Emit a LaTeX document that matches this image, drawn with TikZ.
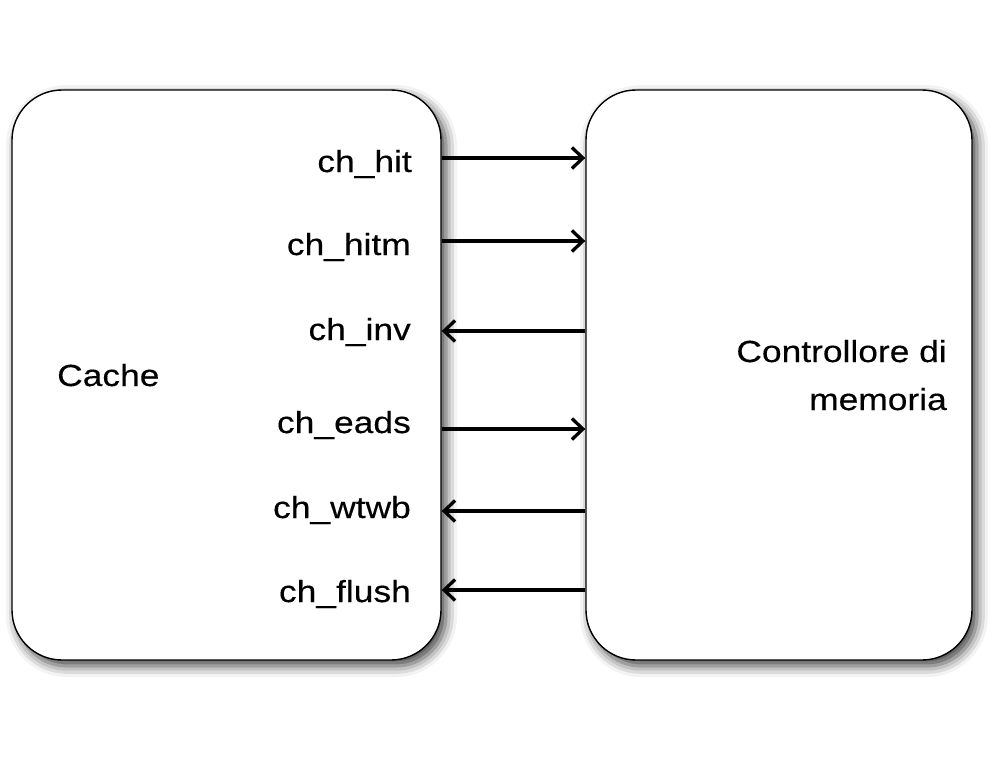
\documentclass[tikz,border=0pt]{standalone}
\usepackage{fontspec}
\setmainfont{Liberation Sans}[FakeStretch=1.16,FakeBold=0.3]
\usetikzlibrary{arrows.meta,shadows.blur}
\tikzset{
  block/.style={draw=black, line width=1.4pt, fill=white, rounded corners=50pt,
    blur shadow={shadow xshift=5pt, shadow yshift=-6pt, shadow blur radius=11pt, shadow opacity=75},
    inner sep=0pt},
  sig/.style={line width=3.3pt, -{Straight Barb[length=11pt,width=21pt,line width=3.3pt]}},
  lbl/.style={font=\fontsize{30.5}{36}\selectfont, anchor=base east, inner sep=0pt},
}
\begin{document}
\begin{tikzpicture}[x=1pt,y=-1pt]
\useasboundingbox (0,0) rectangle (999,764);
\node[block, minimum width=429pt, minimum height=570pt] (cache) at (226.5,375) {};
\node[block, minimum width=386pt, minimum height=570pt] (mem) at (779,375) {};
\node[lbl, anchor=base west] (cachetxt) at (57,386) {Cache};
\node[lbl] (mem1) at (947,362) {Controllore di};
\node[lbl] (mem2) at (947,410) {memoria};
\node[lbl] (l1) at (412,172) {ch\_hit};
\node[lbl] (l2) at (411,255) {ch\_hitm};
\node[lbl] (l3) at (411,340) {ch\_inv};
\node[lbl] (l4) at (411,433) {ch\_eads};
\node[lbl] (l5) at (411,518) {ch\_wtwb};
\node[lbl] (l6) at (411,602) {ch\_flush};
\draw[sig] (cache.east |- 0,158) -- (mem.west |- 0,158);
\draw[sig] (cache.east |- 0,241) -- (mem.west |- 0,241);
\draw[sig] (mem.west |- 0,331) -- (cache.east |- 0,331);
\draw[sig] (cache.east |- 0,429) -- (mem.west |- 0,429);
\draw[sig] (mem.west |- 0,511) -- (cache.east |- 0,511);
\draw[sig] (mem.west |- 0,590) -- (cache.east |- 0,590);
\end{tikzpicture}
\end{document}
